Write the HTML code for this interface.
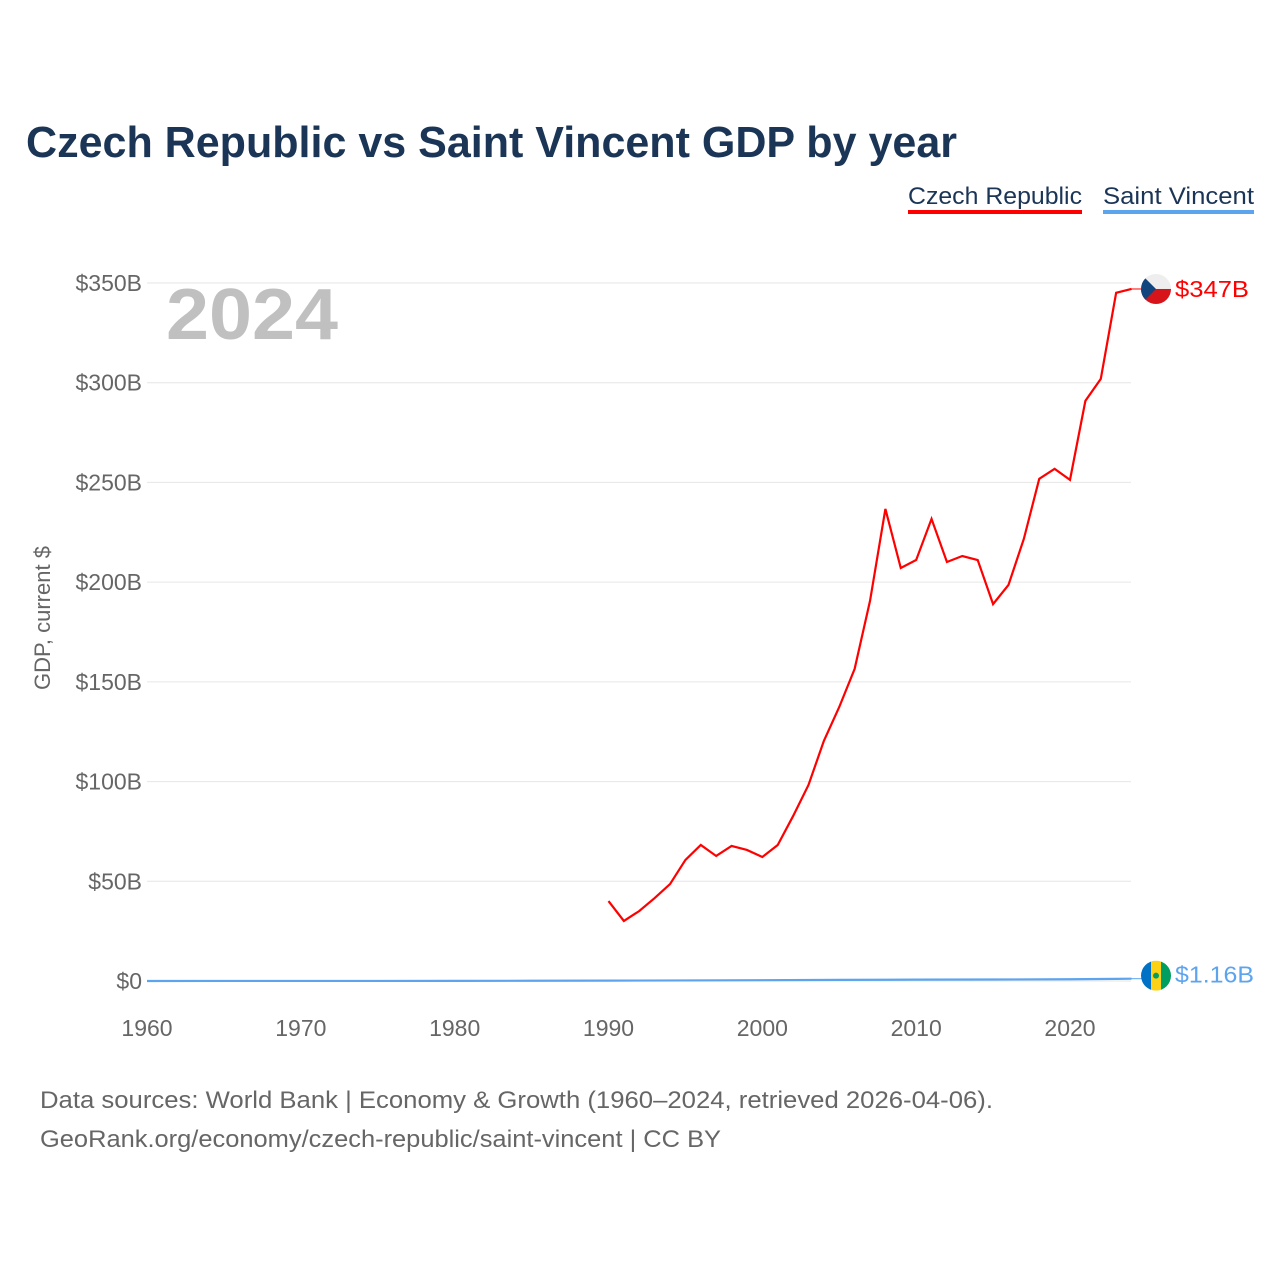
<!DOCTYPE html>
<html><head><meta charset="utf-8"><style>
body{margin:0;background:#fff;font-family:"Liberation Sans",sans-serif}
svg text{font-family:"Liberation Sans",sans-serif}
</style></head><body>
<svg width="1280" height="1280" viewBox="0 0 1280 1280">
<text x="26" y="157" font-size="44" font-weight="bold" fill="#1b3556" textLength="931" lengthAdjust="spacingAndGlyphs">Czech Republic vs Saint Vincent GDP by year</text>
<g>
<text x="908" y="204" font-size="24" fill="#1b3556" textLength="174" lengthAdjust="spacingAndGlyphs">Czech Republic</text>
<rect x="908" y="210" width="174" height="4" fill="#ff0000"/>
<text x="1103" y="204" font-size="24" fill="#1b3556" textLength="151" lengthAdjust="spacingAndGlyphs">Saint Vincent</text>
<rect x="1103" y="210" width="151" height="4" fill="#5ca4ee"/>
</g>
<text x="166" y="339" font-size="72" font-weight="bold" fill="#c0c0c0" textLength="172" lengthAdjust="spacingAndGlyphs">2024</text>
<text transform="translate(50,618) rotate(-90)" text-anchor="middle" font-size="22" fill="#666">GDP, current $</text>
<g id="grid"></g><g id="yt"></g><g id="xt"></g><g id="lines"></g>
<text x="40" y="1108" font-size="24" fill="#666" textLength="953" lengthAdjust="spacingAndGlyphs">Data sources: World Bank | Economy &amp; Growth (1960–2024, retrieved 2026-04-06).</text>
<text x="40" y="1147" font-size="24" fill="#666" textLength="681" lengthAdjust="spacingAndGlyphs">GeoRank.org/economy/czech-republic/saint-vincent | CC BY</text>
</svg>
<script>
const yTicks=[0,50,100,150,200,250,300,350];
const xTicks=[1960,1970,1980,1990,2000,2010,2020];
const czYears=[1990,1991,1992,1993,1994,1995,1996,1997,1998,1999,2000,2001,2002,2003,2004,2005,2006,2007,2008,2009,2010,2011,2012,2013,2014,2015,2016,2017,2018,2019,2020,2021,2022,2023,2024];
const czValues=[40.1,30.1,35.1,41.6,48.6,60.7,68.2,62.7,67.7,65.7,62.2,68.2,82.7,98.3,120.4,137.4,156.5,190.6,236.7,207.1,211.1,231.7,210.1,213.1,211.1,189,198.6,221.7,251.8,256.8,251.3,290.9,301.9,345.1,347];
const svYears=[1960,1965,1970,1975,1980,1985,1990,1995,2000,2005,2010,2015,2020,2022,2023,2024];
const svValues=[0.01,0.02,0.02,0.04,0.06,0.11,0.19,0.28,0.4,0.55,0.68,0.76,0.86,0.99,1.08,1.16];
const NS="http://www.w3.org/2000/svg";
const x=y=>147+(y-1960)*(923/60);
const yS=v=>981-v*(698/350);
function mk(tag,attrs,parent,txt){const e=document.createElementNS(NS,tag);for(const k in attrs)e.setAttribute(k,attrs[k]);if(txt!=null)e.textContent=txt;document.getElementById(parent).appendChild(e);return e;}
yTicks.forEach(t=>{
 const l=mk('line',{x1:147,x2:1131,y1:yS(t),y2:yS(t),stroke:'#e6e6e6','stroke-width':1},'grid');
 
 
 const tx=mk('text',{x:142,y:yS(t)+8,'text-anchor':'end','font-size':23,fill:'#666'},'yt','$'+t+(t?'B':''));
 
 
});
xTicks.forEach(t=>{
 const tx=mk('text',{x:x(t),y:1036,'text-anchor':'middle','font-size':23,fill:'#666'},'xt',t);
 
 
});
function line(ys,vs,col,name){
 const p=mk('polyline',{points:ys.map((y,i)=>x(y)+','+yS(vs[i])).join(' '),fill:'none',stroke:col,'stroke-width':2.2},'lines');
 
 
}
line(svYears,svValues,'#5ca4ee','saint-vincent-line');
line(czYears,czValues,'#ff0000','czech-line');
const cy=yS(czValues[czValues.length-1]),sy=yS(svValues[svValues.length-1]),ex=x(2024);
mk('line',{x1:ex,x2:1142,y1:cy,y2:cy,stroke:'#ff0000','stroke-width':1},'lines');
mk('line',{x1:ex,x2:1142,y1:sy,y2:sy,stroke:'#5ca4ee','stroke-width':1},'lines');
const g=document.getElementById('lines');
g.insertAdjacentHTML('beforeend',`<g><clipPath id="c1"><circle cx="1156" cy="${cy}" r="15"/></clipPath><g clip-path="url(#c1)"><rect x="1141" y="${cy-15}" width="30" height="15" fill="#eee"/><rect x="1141" y="${cy}" width="30" height="15" fill="#d7141a"/><polygon points="1141,${cy-15} 1156,${cy} 1141,${cy+15}" fill="#11457e"/></g></g>
<text x="1175" y="${cy+8}" font-size="23" fill="#ff0000" textLength="74" lengthAdjust="spacingAndGlyphs">$${czValues[czValues.length-1]}B</text>
<g><clipPath id="c2"><circle cx="1156" cy="${sy-3}" r="15"/></clipPath><g clip-path="url(#c2)"><rect x="1141" y="${sy-18}" width="10" height="30" fill="#0072c6"/><rect x="1151" y="${sy-18}" width="10" height="30" fill="#fcd116"/><rect x="1161" y="${sy-18}" width="10" height="30" fill="#009e60"/><circle cx="1156" cy="${sy-3}" r="3" fill="#009e60"/></g></g>
<text x="1175" y="${sy+4}" font-size="23" fill="#5ca4ee" textLength="79" lengthAdjust="spacingAndGlyphs">$${svValues[svValues.length-1]}B</text>`);
</script>
</body></html>
